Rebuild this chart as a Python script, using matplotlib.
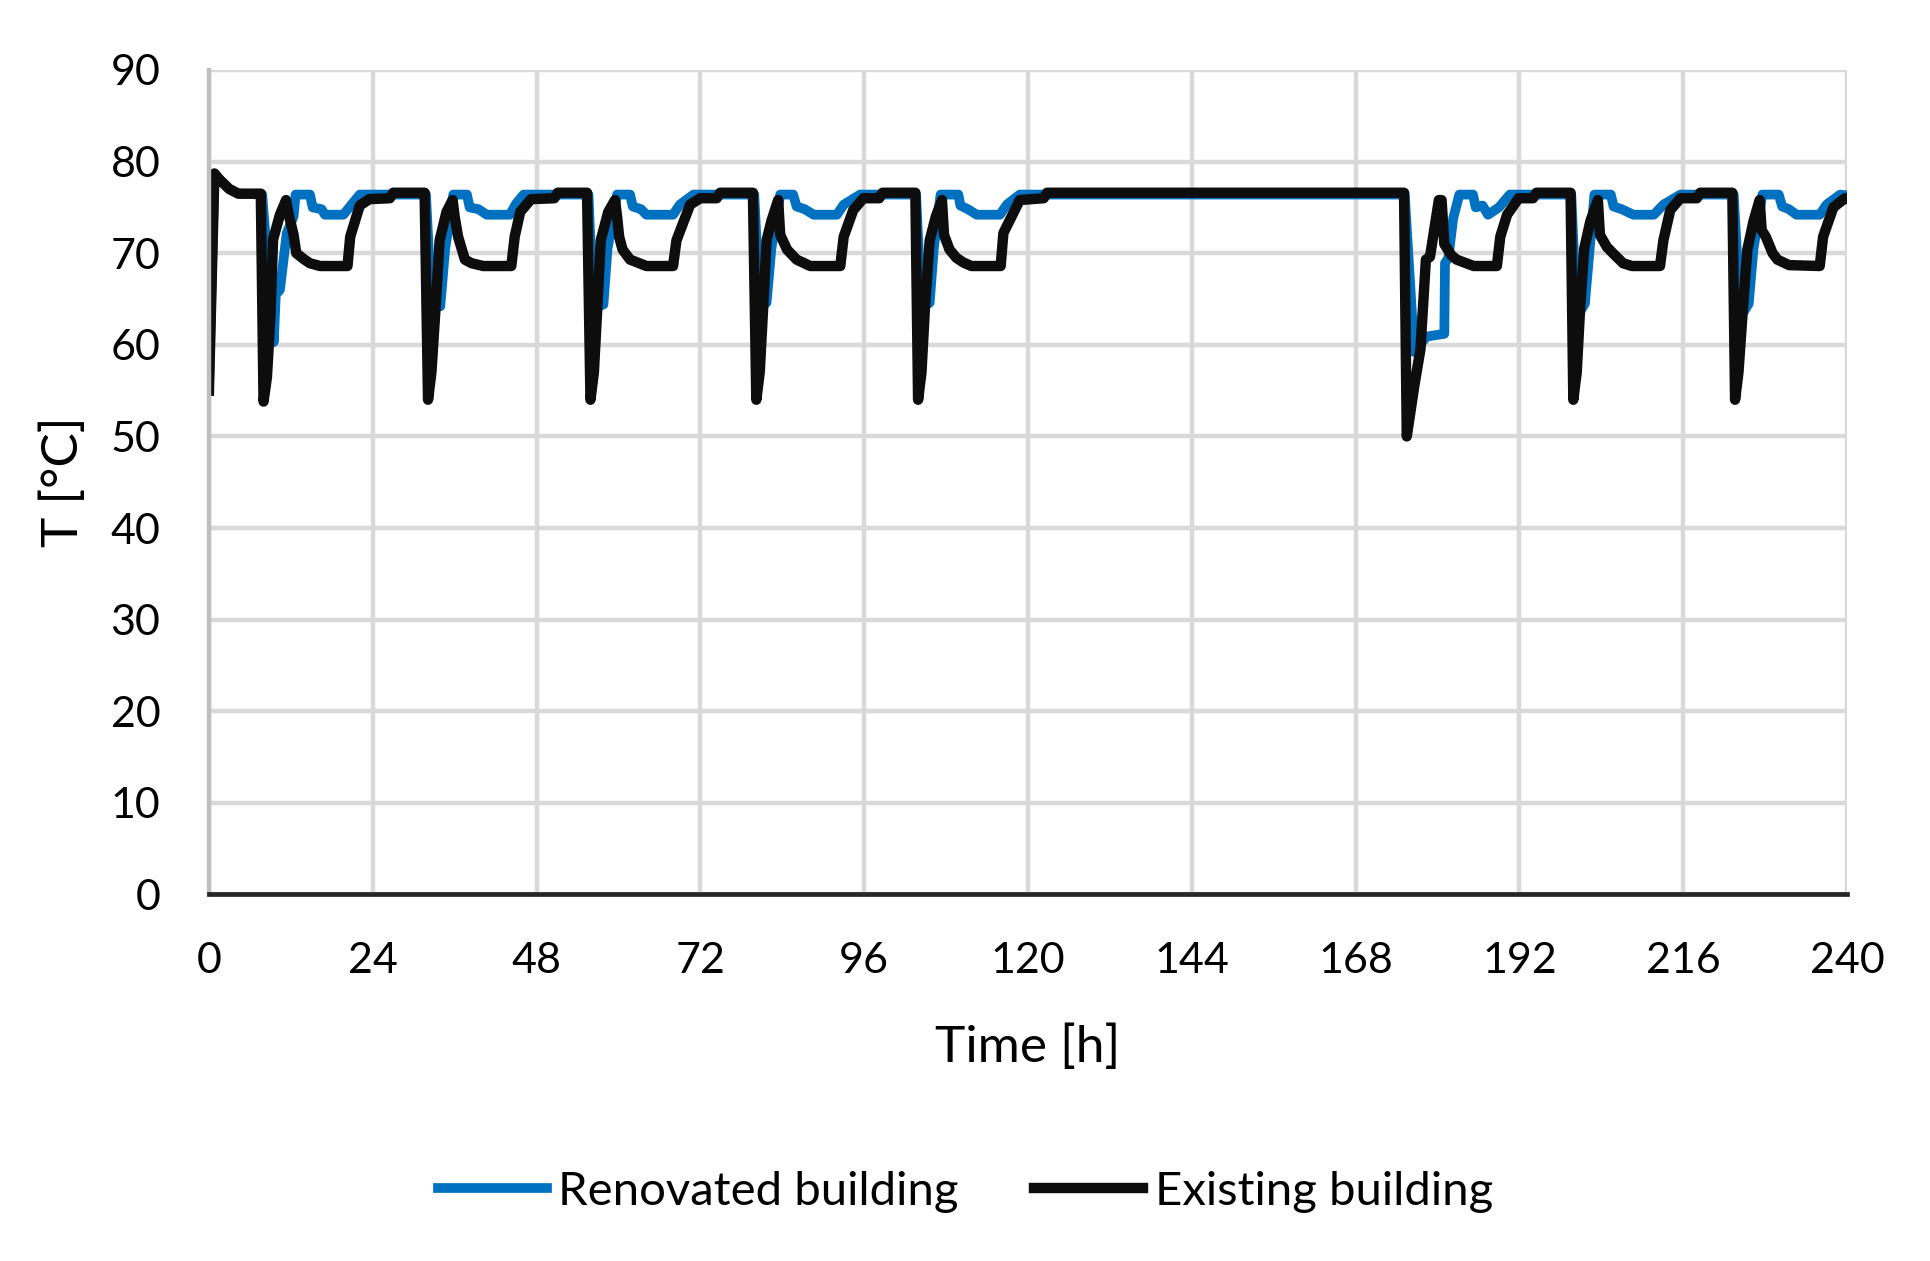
import matplotlib.pyplot as plt

plt.rcParams['font.family'] = ['Lato', 'DejaVu Sans']

# existing building (black) - breakpoints
existing_t = [0, 0.8, 1.6, 3.0, 4.3, 7.6,
              8.0, 8.5, 9.0, 9.4, 10.4, 11.3, 11.6, 12.4, 12.8, 14.0, 14.8, 16.3, 20.3, 20.7, 22.1, 23.5, 26.5, 27.0, 31.6,
              32.1, 32.6, 33.2, 33.8, 34.8, 35.7, 36.0, 36.5, 37.5, 38.5, 40.2, 44.3, 44.8, 45.6, 47.2, 50.6, 51.1, 55.4,
              55.9, 56.4, 56.9, 57.4, 58.5, 59.5, 59.8, 60.1, 60.6, 61.7, 64.1, 68.0, 68.5, 70.5, 72.0, 74.4, 74.9, 79.7,
              80.2, 80.7, 81.2, 81.7, 82.4, 83.4, 83.7, 84.7, 86.1, 88.1, 92.5, 93.0, 94.4, 95.9, 98.2, 98.7, 103.5,
              103.9, 104.4, 104.9, 105.6, 106.5, 107.4, 107.7, 108.5, 109.5, 110.5, 111.7, 116.0, 116.4, 118.8, 122.3, 122.8, 175.1,
              175.5, 176.6, 177.5, 178.3, 178.9, 180.2, 180.6, 181.0, 182.0, 182.8, 185.3, 188.7, 189.2, 190.2, 191.9, 194.0, 194.5, 199.5,
              199.9, 200.4, 200.9, 201.5, 202.4, 203.5, 203.8, 204.8, 205.7, 207.2, 208.5, 212.6, 213.1, 214.1, 215.6, 218.0, 218.5, 223.2,
              223.6, 224.1, 224.8, 225.4, 226.3, 227.2, 227.5, 228.1, 229.1, 229.8, 231.5, 236.0, 236.5, 238.0, 239.7, 240.0]
existing_T = [55.0, 78.7, 78.0, 77.0, 76.5, 76.5,
              53.8, 56.5, 63.0, 71.5, 74.2, 75.8, 74.5, 72.0, 70.0, 69.3, 68.9, 68.6, 68.6, 71.8, 75.2, 75.9, 76.0, 76.6, 76.6,
              54.0, 57.0, 64.0, 71.4, 74.5, 75.8, 74.0, 71.8, 69.3, 68.9, 68.6, 68.6, 71.8, 74.5, 75.9, 76.0, 76.6, 76.6,
              54.0, 57.0, 64.0, 71.4, 74.5, 75.8, 74.0, 71.8, 70.4, 69.3, 68.6, 68.6, 71.4, 75.3, 76.0, 76.0, 76.6, 76.6,
              54.0, 57.0, 64.0, 71.4, 73.5, 75.8, 72.0, 70.4, 69.3, 68.6, 68.6, 71.8, 74.7, 76.0, 76.0, 76.6, 76.6,
              54.0, 57.0, 64.0, 71.4, 74.0, 75.8, 72.0, 70.4, 69.5, 69.0, 68.6, 68.6, 72.2, 75.8, 76.0, 76.6, 76.6,
              50.0, 55.5, 59.5, 69.3, 69.6, 75.8, 75.8, 71.0, 69.8, 69.3, 68.6, 68.6, 71.8, 74.2, 76.0, 76.0, 76.6, 76.6,
              54.0, 57.0, 64.0, 70.5, 73.5, 75.8, 72.0, 70.7, 70.0, 68.9, 68.6, 68.6, 71.4, 74.7, 76.0, 76.0, 76.6, 76.6,
              54.0, 57.0, 64.5, 70.4, 73.5, 75.8, 72.5, 71.8, 70.0, 69.3, 68.7, 68.6, 71.8, 75.0, 76.0, 76.0]

# renovated building (blue)
renovated_t = [0, 0.8, 1.6, 3.0, 4.3, 7.8,
               9.5, 9.8, 10.4, 11.4, 12.4, 12.7, 14.8, 15.2, 16.5, 17.0, 19.7, 21.0, 22.1, 31.8,
               32.4, 33.9, 34.6, 35.8, 37.8, 38.2, 39.5, 40.7, 44.1, 45.0, 46.1, 55.6,
               56.3, 57.8, 58.4, 59.8, 61.7, 62.1, 63.3, 64.1, 68.0, 69.0, 71.0, 79.9,
               80.7, 81.7, 82.4, 83.7, 85.6, 86.1, 87.3, 88.6, 92.0, 93.0, 95.4, 103.6,
               104.4, 105.6, 106.2, 107.2, 109.8, 110.1, 111.2, 112.5, 115.9, 116.9, 118.8, 175.2,
               176.6, 178.4, 181.0, 181.1, 181.6, 182.3, 183.2, 185.2, 185.6, 186.6, 187.4, 188.2, 189.0, 190.6, 199.6,
               200.4, 201.6, 202.3, 203.0, 205.4, 205.8, 207.0, 208.7, 211.7, 213.1, 215.6, 223.4,
               224.4, 225.6, 226.3, 227.6, 230.0, 230.5, 231.5, 232.6, 236.0, 237.0, 239.0, 240.0]
renovated_T = [55.0, 78.7, 78.0, 77.0, 76.5, 76.4,
               60.3, 65.5, 66.0, 72.2, 74.0, 76.4, 76.4, 75.0, 74.8, 74.2, 74.2, 75.4, 76.4, 76.4,
               67.4, 64.2, 70.4, 76.4, 76.4, 75.0, 74.8, 74.2, 74.2, 75.4, 76.4, 76.4,
               64.0, 64.4, 70.5, 76.4, 76.4, 75.1, 74.8, 74.2, 74.2, 75.3, 76.4, 76.4,
               64.0, 64.6, 70.5, 76.4, 76.4, 75.1, 74.8, 74.2, 74.2, 75.3, 76.4, 76.4,
               64.0, 64.6, 70.5, 76.4, 76.4, 75.2, 74.8, 74.2, 74.2, 75.3, 76.4, 76.4,
               59.2, 60.9, 61.2, 68.9, 69.5, 73.8, 76.4, 76.4, 75.0, 75.2, 74.2, 74.6, 75.0, 76.4, 76.4,
               63.0, 64.5, 70.5, 76.4, 76.4, 75.1, 74.8, 74.2, 74.2, 75.3, 76.4, 76.4,
               63.0, 64.5, 70.5, 76.4, 76.4, 75.1, 74.8, 74.2, 74.2, 75.3, 76.4, 76.3]

xticks = list(range(0, 241, 24))
yticks = list(range(0, 91, 10))

fig = plt.figure(figsize=(19.31, 12.61), dpi=100)
ax = fig.add_axes([0.1082, 0.2907, 0.8483, 0.6538])

ax.plot(renovated_t, renovated_T, color='#0070C0', lw=7, label='Renovated building', solid_joinstyle='round')
ax.plot(existing_t, existing_T, color='#0D0D0D', lw=7.5, label='Existing building', solid_joinstyle='round')

ax.set_xlim(0, 240)
ax.set_ylim(0, 90)
ax.set_xticks(xticks)
ax.set_yticks(yticks)
ax.grid(True, color='#D9D9D9', lw=3.2)
ax.set_axisbelow(True)
ax.tick_params(length=0, labelsize=31)
ax.tick_params(axis='x', pad=34)
ax.tick_params(axis='y', pad=35)
for s in ['top', 'right']:
    ax.spines[s].set_visible(False)
ax.spines['left'].set_color('#BFBFBF')
ax.spines['left'].set_linewidth(3.2)
ax.spines['bottom'].set_color('#262626')
ax.spines['bottom'].set_linewidth(3.4)

ax.set_xlabel('Time [h]', fontsize=37, labelpad=32)
ax.set_ylabel('T [°C]', fontsize=37, labelpad=17)

fig.legend(loc='center', bbox_to_anchor=(0.5, 0.0547), ncol=2, frameon=False,
           fontsize=34, handlelength=2.3, handletextpad=0.25, columnspacing=1.6)

fig.savefig('out.png', dpi=100)
